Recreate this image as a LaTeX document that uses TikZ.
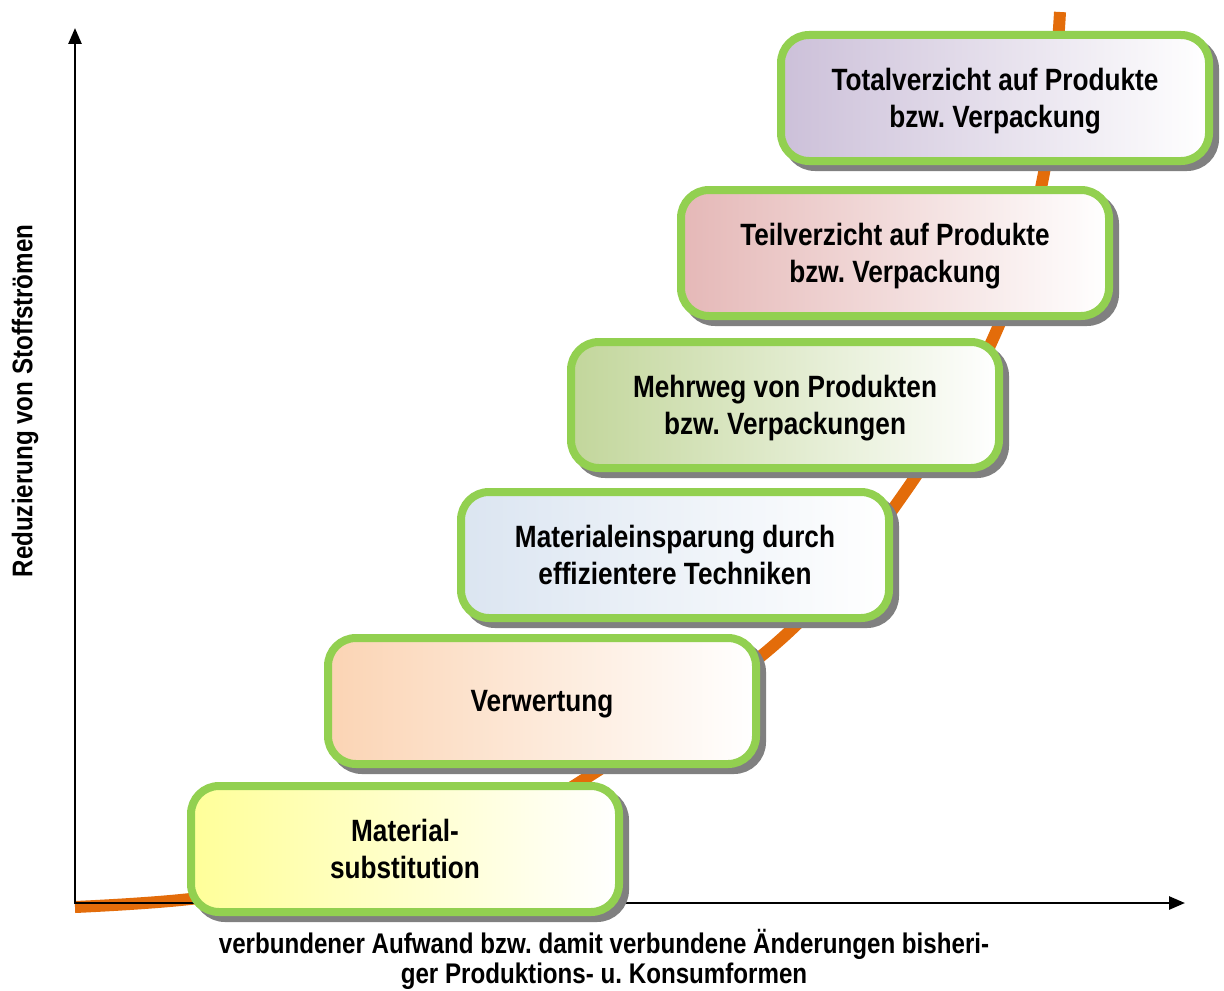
\documentclass[tikz,border=0pt]{standalone}
\usepackage{fontspec}
\setmainfont[FakeStretch=0.85]{Liberation Sans}
\usetikzlibrary{shadows,arrows.meta}
\definecolor{boxgreen}{HTML}{92D050}
\definecolor{curveorange}{HTML}{E36C0A}
\definecolor{cYellow}{HTML}{FFFF99}
\definecolor{cPeach}{HTML}{FBD4B4}
\definecolor{cBlue}{HTML}{DBE5F1}
\definecolor{cGreen}{HTML}{C2D69B}
\definecolor{cPink}{HTML}{E5B8B7}
\definecolor{cLilac}{HTML}{CCC0D9}
\frenchspacing
\begin{document}
\begin{tikzpicture}[x=0.5pt,y=-0.5pt,
  stepbox/.style={rounded corners=14pt, draw=boxgreen, line width=4pt,
    minimum width=214pt, minimum height=63pt, inner sep=0pt, align=center,
    text depth=0pt,
    font=\bfseries\fontsize{15.4}{18.5}\selectfont,
    left color=#1, right color=white,
    drop shadow={shadow xshift=3pt, shadow yshift=-3pt, fill=black!50, draw=black!50, line width=4pt, opacity=1}},
  axisline/.style={line width=1.3pt, black, {Triangle[length=8pt,width=6.5pt]}-{Triangle[length=8pt,width=6.5pt]}},
  curveline/.style={line width=6pt, curveorange},
  axlabel/.style={font=\bfseries\fontsize{14.2}{15}\selectfont, align=center}]
\useasboundingbox (0,0) rectangle (1224,990);
% curve
\draw[curveline] plot[smooth, tension=0.6] coordinates {(75,907) (190,899) (330,878) (460,843) (580,782) (780,640) (905,492) (996,332) (1043,178) (1060,12)};
% axes
\coordinate (Y) at (75,28);
\coordinate (O) at (75,903);
\coordinate (X) at (1185,903);
\draw[axisline] (Y) -- (O) -- (X);
% labels
\node[axlabel, rotate=90] (ylab) at (25,401) {Reduzierung von Stoffströmen};
\node[axlabel] (xlab) at (604,959) {verbundener Aufwand bzw. damit verbundene Änderungen bisheri-\\ger Produktions- u. Konsumformen};
% boxes
\node[stepbox=cYellow] (b1) at (405,849) {Material-\\substitution};
\node[stepbox=cPeach]  (b2) at (542,701) {Verwertung};
\node[stepbox=cBlue]   (b3) at (675,555) {Materialeinsparung durch\\effizientere Techniken};
\node[stepbox=cGreen]  (b4) at (785,405) {Mehrweg von Produkten\\bzw. Verpackungen};
\node[stepbox=cPink]   (b5) at (895,253) {Teilverzicht auf Produkte\\bzw. Verpackung};
\node[stepbox=cLilac, text depth=-3.5pt] (b6) at (995,98) {Totalverzicht auf Produkte\\bzw. Verpackung};
\end{tikzpicture}
\end{document}
